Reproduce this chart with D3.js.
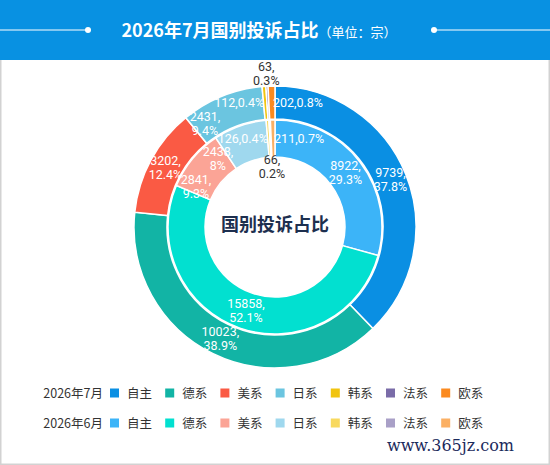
<!DOCTYPE html>
<html>
<head>
<meta charset="utf-8">
<script src="https://cdn.jsdelivr.net/npm/d3@7"></script>
<style>
    body { margin: 0; background: #fff; }
    svg { display: block; font-family: "Microsoft YaHei", "Noto Sans CJK SC", sans-serif; }
    .lbl { font-family: Roboto, "Noto Sans CJK SC", sans-serif; }
</style>
</head>
<body>
<div id="chart"></div>
<script>
// data
const categories = ["自主", "德系", "美系", "日系", "韩系", "法系", "欧系"];
const seriesNames = ["2026年7月", "2026年6月"];
const julValues = [9739, 10023, 3202, 2431, 112, 63, 202];
const julPct = ["37.8%", "38.9%", "12.4%", "9.4%", "0.4%", "0.3%", "0.8%"];
const junValues = [8922, 15858, 2841, 2438, 126, 66, 211];
const junPct = ["29.3%", "52.1%", "9.3%", "8%", "0.4%", "0.2%", "0.7%"];

const julColors = ["#0a8fe3", "#12b4a5", "#fa5a44", "#6bc5e0", "#f1c40f", "#7a6ca8", "#fb8a1f"];
const junColors = ["#3cb4f8", "#02e0d0", "#fba496", "#9fd8ee", "#f8d95e", "#a9a0c7", "#fbb064"];

const width = 550, height = 465;
const cx = 275, cy = 227;

const svg = d3.select("#chart").append("svg")
    .attr("width", width)
    .attr("height", height);

// background + border
svg.append("rect")
    .attr("x", 0.75).attr("y", 0.75)
    .attr("width", width - 1.5).attr("height", height - 1.5)
    .attr("fill", "#fff")
    .attr("stroke", "#d2d2d2")
    .attr("stroke-width", 1.5);

// header
svg.append("rect")
    .attr("x", 0).attr("y", 0)
    .attr("width", width).attr("height", 60)
    .attr("fill", "#0891e2");

svg.append("line").attr("x1", 0).attr("x2", 88).attr("y1", 30).attr("y2", 30)
    .attr("stroke", "#fff").attr("stroke-width", 1);
svg.append("circle").attr("cx", 88).attr("cy", 30).attr("r", 3).attr("fill", "#fff");
svg.append("line").attr("x1", 434).attr("x2", width).attr("y1", 30).attr("y2", 30)
    .attr("stroke", "#fff").attr("stroke-width", 1);
svg.append("circle").attr("cx", 434).attr("cy", 30).attr("r", 3).attr("fill", "#fff");

const title = svg.append("text")
    .attr("x", 259).attr("y", 37)
    .attr("text-anchor", "middle")
    .attr("fill", "#fff");
title.append("tspan").attr("font-size", 18).attr("font-weight", "bold").text("2026年7月国别投诉占比");
title.append("tspan").attr("font-size", 13).text("（单位：宗）");

// rings
const pie = d3.pie().sort(null).value(d => d);
const g = svg.append("g").attr("transform", `translate(${cx},${cy})`);

// text box trimmed a bit (the font's line box is taller than the ink)
function inkBox(node) {
    const b = node.getBBox();
    return {x: b.x, y: b.y + 1, width: b.width, height: b.height - 2};
}

const overlaps = (a, b) => a.x < b.x + b.width && b.x < a.x + a.width &&
    a.y < b.y + b.height && b.y < a.y + a.height;

function drawRing(values, pcts, colors, r0, r1, tinyOutside) {
    const arcs = pie(values);
    const total = d3.sum(values);
    const arc = d3.arc().innerRadius(r0).outerRadius(r1);

    g.append("g").selectAll("path")
        .data(arcs)
        .enter().append("path")
        .attr("d", arc)
        .attr("fill", (d, i) => colors[i])
        .attr("stroke", "#fff")
        .attr("stroke-width", 1.5);

    const rm = (r0 + r1) / 2;
    const fracs = values.map(v => v / total);
    const tinyIndex = fracs.findIndex(f => f < 0.003);
    const labels = g.append("g").attr("class", "lbl").attr("font-size", 12.5);
    const placed = [];
    const insideLabels = [];

    arcs.forEach((a, i) => {
        const mid = (a.startAngle + a.endAngle) / 2;
        const f = fracs[i];
        if (f < 0.003) {
            // tiny slice: label outside ring (outer) or in the hole (inner)
            const r = tinyOutside ? r1 + 12 : r0 - 10;
            const x = r * Math.sin(mid), y = -r * Math.cos(mid);
            const t = labels.append("text").attr("text-anchor", "middle").attr("fill", "#333");
            t.append("tspan").attr("x", x).attr("y", y - 3).text(values[i] + ",");
            t.append("tspan").attr("x", x).attr("y", y + 11).text(pcts[i]);
        } else if (f < 0.01) {
            // small slice: single line, pushed aside of the tiny one
            const x = rm * Math.sin(mid), y = -rm * Math.cos(mid);
            const t = labels.append("text")
                .attr("x", i < tinyIndex ? x - 1 : x + 1)
                .attr("y", y + 4)
                .attr("text-anchor", i < tinyIndex ? "end" : "start")
                .attr("fill", "#fff")
                .text(values[i] + "," + pcts[i]);
            placed.push(inkBox(t.node()));
        } else {
            const t = labels.append("text").attr("text-anchor", "middle").attr("fill", "#fff");
            const l1 = t.append("tspan").text(values[i] + ",");
            const l2 = t.append("tspan").text(pcts[i]);
            const place = ang => {
                const x = rm * Math.sin(ang), y = -rm * Math.cos(ang);
                l1.attr("x", x).attr("y", y - 3);
                l2.attr("x", x).attr("y", y + 11);
            };
            place(mid);
            insideLabels.push({t, place, mid});
        }
    });

    // simple overlap avoidance: walk outward from the top, sliding each label
    // along the ring until it clears the ones already placed
    const left = insideLabels.filter(l => l.mid > Math.PI).sort((a, b) => b.mid - a.mid);
    const right = insideLabels.filter(l => l.mid <= Math.PI).sort((a, b) => a.mid - b.mid);
    [[left, -1], [right, 1]].forEach(([list, dir]) => {
        list.forEach(l => {
            let ang = l.mid, step = 0;
            while (placed.some(b => overlaps(inkBox(l.t.node()), b)) && step < 30) {
                ang += dir * Math.PI / 180;
                l.place(ang);
                step++;
            }
            placed.push(inkBox(l.t.node()));
        });
    });
}

drawRing(julValues, julPct, julColors, 108, 141, true);
drawRing(junValues, junPct, junColors, 70, 107, false);

// center title
svg.append("text")
    .attr("x", cx).attr("y", cy + 4)
    .attr("text-anchor", "middle")
    .attr("font-size", 18)
    .attr("font-weight", "bold")
    .attr("fill", "#1d2f4f")
    .text("国别投诉占比");

// legend
const legendRows = [julColors, junColors];
legendRows.forEach((colors, r) => {
    const y = 393 + r * 30;
    const row = svg.append("g").attr("font-size", 12.5).attr("fill", "#333");
    row.append("text")
        .attr("x", 103).attr("y", y + 4.5)
        .attr("text-anchor", "end")
        .text(seriesNames[r]);
    categories.forEach((c, i) => {
        const x = 110 + i * 55.2;
        row.append("rect")
            .attr("x", x).attr("y", y - 4.5)
            .attr("width", 9).attr("height", 9)
            .attr("fill", colors[i]);
        row.append("text")
            .attr("x", x + 17).attr("y", y + 4.5)
            .text(c);
    });
});

// watermark
svg.append("text")
    .attr("x", 514).attr("y", 451)
    .attr("text-anchor", "end")
    .attr("font-family", "DejaVu Serif, serif")
    .attr("font-size", 16)
    .attr("fill", "#1b2a5c")
    .text("www.365jz.com");
</script>
</body>
</html>
